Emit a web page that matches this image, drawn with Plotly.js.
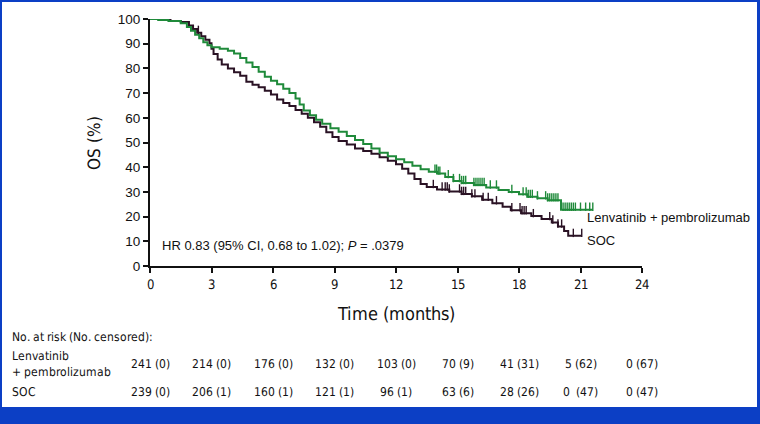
<!DOCTYPE html>
<html>
<head>
<meta charset="utf-8">
<script src="https://cdn.plot.ly/plotly-3.0.1.min.js"></script>
<style>
  @font-face {
    font-family: 'NarrowX';
    src: local('Liberation Sans Narrow'), local('LiberationSansNarrow-Regular'),
         local('DejaVu Sans Condensed'), local('DejaVuSansCondensed');
  }
  html, body { margin: 0; padding: 0; background: #fff; }
  #wrap { position: relative; width: 760px; height: 424px; overflow: hidden; }
  #chart { width: 760px; height: 424px; }
  .edge { position: absolute; background: #0c3fc5; }
</style>
</head>
<body>
<div id="wrap">
  <div id="chart"></div>
  <div class="edge" style="left:0;top:0;width:760px;height:2px"></div>
  <div class="edge" style="left:0;top:0;width:2px;height:424px"></div>
  <div class="edge" style="left:757px;top:0;width:3px;height:424px"></div>
  <div class="edge" style="left:0;top:407px;width:760px;height:17px"></div>
</div>
<script>
// Kaplan-Meier steps (months, OS %)
const lenvaTime = [0, 0.4, 0.9, 1.5, 1.8, 2.0, 2.2, 2.4, 2.6, 2.8, 3.0, 3.4, 3.8, 4.1, 4.4, 4.7, 5.0, 5.3, 5.6, 5.9, 6.2, 6.5, 6.8, 7.1, 7.3, 7.5, 7.8, 8.1, 8.4, 8.8, 9.2, 9.6, 10.0, 10.4, 10.8, 11.2, 11.6, 12.0, 12.4, 12.8, 13.2, 13.6, 14.0, 14.4, 14.8, 15.2, 15.8, 16.4, 17.0, 17.5, 18.0, 18.4, 18.9, 19.4, 20.05, 21.6];
const lenvaOS = [100, 99.6, 99.2, 98.3, 96.8, 95.2, 93.6, 92.2, 90.6, 89.4, 88.6, 88.0, 87.1, 86.0, 84.2, 82.4, 80.6, 78.6, 76.6, 75.0, 73.6, 71.8, 70.0, 67.8, 65.4, 63.0, 61.0, 59.2, 57.6, 55.8, 54.4, 52.6, 51.0, 49.4, 47.6, 45.8, 44.4, 43.2, 42.0, 40.6, 39.2, 38.2, 37.4, 36.0, 34.4, 33.6, 32.8, 31.8, 30.8, 30.0, 29.0, 28.0, 27.4, 26.6, 22.8, 22.8];
const lenvaCensor = [13.9, 13.98, 14.06, 14.14, 14.55, 14.8, 15.1, 15.2, 15.3, 15.4, 15.8, 15.9, 16.0, 16.1, 16.2, 16.3, 16.6, 16.9, 17.65, 18.2, 18.35, 18.45, 18.55, 18.65, 18.9, 19.3, 19.4, 19.5, 19.6, 19.7, 19.8, 19.9, 20.15, 20.25, 20.35, 20.45, 20.55, 20.65, 20.75, 21.0, 21.25, 21.45, 21.6];

const socTime = [0, 0.5, 1.0, 1.5, 1.9, 2.1, 2.3, 2.5, 2.7, 2.9, 3.0, 3.1, 3.3, 3.5, 3.8, 4.1, 4.4, 4.7, 5.0, 5.3, 5.6, 5.9, 6.2, 6.5, 6.8, 7.1, 7.4, 7.7, 8.0, 8.3, 8.6, 8.9, 9.2, 9.6, 10.0, 10.4, 10.8, 11.2, 11.6, 12.0, 12.3, 12.6, 12.9, 13.2, 13.5, 14.0, 14.6, 15.2, 15.7, 16.2, 16.7, 17.2, 17.6, 18.1, 18.6, 19.1, 19.6, 19.9, 20.2, 20.4, 21.06];
const socOS = [100, 99.6, 99.2, 98.8, 97.4, 96.0, 94.4, 93.0, 91.6, 90.2, 88.0, 85.8, 83.6, 81.6, 80.0, 78.4, 77.0, 74.6, 73.4, 72.4, 71.0, 69.4, 67.4, 66.0, 64.8, 63.2, 61.6, 60.0, 58.2, 56.4, 54.2, 52.2, 50.6, 49.2, 47.6, 46.6, 45.4, 44.0, 42.6, 41.2, 39.4, 37.4, 35.2, 33.2, 32.0, 31.0, 30.2, 29.2, 28.2, 26.8, 25.4, 24.0, 22.6, 21.4, 20.2, 19.0, 17.6, 16.0, 14.2, 12.2, 12.2];
const socCensor = [2.36, 13.82, 14.25, 14.4, 14.5, 14.6, 15.1, 15.2, 15.3, 15.4, 15.7, 15.85, 16.25, 16.5, 16.9, 17.65, 18.05, 18.15, 18.25, 18.35, 18.7, 19.5, 19.65, 19.9, 20.08, 20.65, 21.06];

// Number at risk table
const riskTimes = [0, 3, 6, 9, 12, 15, 18, 21, 24];
const lenvaRisk = ['241 (0)', '214 (0)', '176 (0)', '132 (0)', '103 (0)', '70 (9)', '41 (31)', '5 (62)', '0 (67)'];
const socRisk = ['239 (0)', '206 (1)', '160 (1)', '121 (1)', '96 (1)', '63 (6)', '28 (26)', '0  (47)', '0 (47)'];

const green = '#1f8a3a';
const dark = '#2a1224';
const narrow = 'NarrowX, Arial, sans-serif';
const plain = 'Arial, "Liberation Sans", sans-serif';

// survival value at time t on a step curve
function stepAt(times, vals, t) {
    let v = vals[0];
    for (let i = 0; i < times.length; i++) {
        if (times[i] <= t) v = vals[i];
    }
    return v;
}

function censorTrace(times, vals, cens, color) {
    return {
        x: cens,
        y: cens.map(t => stepAt(times, vals, t) + 1.2),
        type: 'scatter',
        mode: 'markers',
        marker: { symbol: 'line-ns-open', size: 6, color: color, line: { color: color, width: 1.4 } },
        cliponaxis: false,
        hoverinfo: 'skip'
    };
}

const traces = [
    { x: socTime, y: socOS, type: 'scatter', mode: 'lines', line: { shape: 'hv', color: dark, width: 2 }, cliponaxis: false },
    { x: lenvaTime, y: lenvaOS, type: 'scatter', mode: 'lines', line: { shape: 'hv', color: green, width: 2 }, cliponaxis: false },
    censorTrace(socTime, socOS, socCensor, dark),
    censorTrace(lenvaTime, lenvaOS, lenvaCensor, green)
];

// pixel position -> paper coords (plot area x 150..642, y 19..266)
const py = p => (266 - p) / 247;
const px = p => (p - 150) / 492;

const tableFont = { family: narrow, size: 12, color: '#111' };

const annotations = [
    { x: 0.5, y: 8.1, xref: 'x', yref: 'y', xanchor: 'left', yanchor: 'middle', showarrow: false,
      text: 'HR 0.83 (95% CI, 0.68 to 1.02); <i>P</i> = .0379', font: { family: plain, size: 13, color: '#111' } },
    { x: 21.2, y: 19.6, xref: 'x', yref: 'y', xanchor: 'left', yanchor: 'middle', showarrow: false,
      text: 'Lenvatinib + pembrolizumab', font: { family: plain, size: 13, color: '#111' } },
    { x: 21.2, y: 10.2, xref: 'x', yref: 'y', xanchor: 'left', yanchor: 'middle', showarrow: false,
      text: 'SOC', font: { family: plain, size: 13, color: '#111' } },
    { x: px(10), y: py(337), xref: 'paper', yref: 'paper', xanchor: 'left', yanchor: 'middle', showarrow: false,
      text: 'No. at risk (No. censored):', font: tableFont },
    { x: px(10), y: py(364), xref: 'paper', yref: 'paper', xanchor: 'left', yanchor: 'middle', align: 'left', showarrow: false,
      text: 'Lenvatinib<br>+ pembrolizumab', font: tableFont },
    { x: px(10), y: py(392), xref: 'paper', yref: 'paper', xanchor: 'left', yanchor: 'middle', showarrow: false,
      text: 'SOC', font: tableFont }
];

riskTimes.forEach((t, i) => {
    annotations.push({ x: t, y: py(364), xref: 'x', yref: 'paper', xanchor: 'center', yanchor: 'middle', showarrow: false,
        text: lenvaRisk[i], font: tableFont });
    annotations.push({ x: t, y: py(392), xref: 'x', yref: 'paper', xanchor: 'center', yanchor: 'middle', showarrow: false,
        text: socRisk[i], font: tableFont });
});

const layout = {
    width: 760,
    height: 424,
    margin: { l: 150, r: 118, t: 19, b: 158 },
    paper_bgcolor: '#fff',
    plot_bgcolor: '#fff',
    showlegend: false,
    xaxis: {
        range: [0, 24], tickvals: riskTimes, ticks: 'outside', ticklen: 5, tickwidth: 2, tickcolor: '#111',
        showline: true, linecolor: '#111', linewidth: 2, showgrid: false, zeroline: false,
        tickfont: { family: narrow, size: 13, color: '#111' },
        title: { text: 'Time (months)', font: { family: narrow, size: 17.5, color: '#111' }, standoff: 17 }
    },
    yaxis: {
        range: [0, 100], dtick: 10, ticks: 'outside', ticklen: 5, tickwidth: 2, tickcolor: '#111',
        showline: true, linecolor: '#111', linewidth: 2, showgrid: false, zeroline: false,
        tickfont: { family: plain, size: 13.5, color: '#111' },
        title: { text: 'OS (%)', font: { family: narrow, size: 17, color: '#111' }, standoff: 13 }
    },
    annotations: annotations
};

Plotly.newPlot('chart', traces, layout, { displayModeBar: false, staticPlot: true });
</script>
</body>
</html>
